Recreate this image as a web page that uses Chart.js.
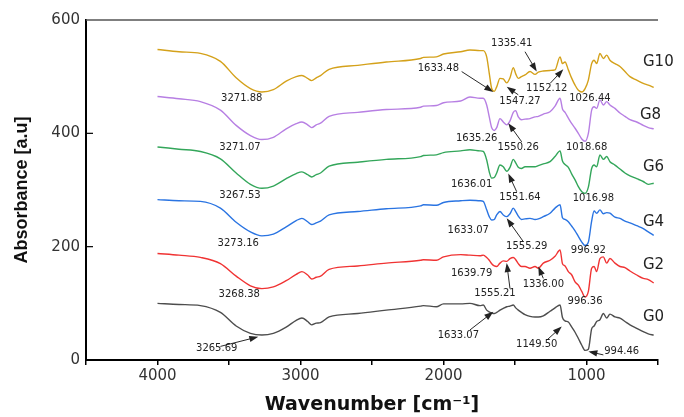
<!DOCTYPE html>
<html>
<head>
<meta charset="utf-8">
<script src="https://cdn.jsdelivr.net/npm/chart.js@4.4.1/dist/chart.umd.min.js"></script>
<style>
  html, body { margin: 0; padding: 0; background: #fff; }
  #wrap { width: 684px; height: 417px; }
</style>
</head>
<body>
<div id="wrap"><canvas id="chart"></canvas></div>
<script>
// wavenumbers (cm-1) shared by all spectra
const wavenumbers = [4000, 3850, 3700, 3560, 3450, 3350, 3270, 3190, 3100, 3030, 2990, 2950, 2922, 2890, 2860, 2800, 2600, 2400, 2160, 2140, 2050, 2000, 1880,
  1815, 1745, 1722, 1698, 1680, 1663, 1645, 1628, 1605, 1582, 1558, 1535, 1512, 1495, 1477, 1455, 1430, 1395, 1360, 1337, 1302, 1255, 1220, 1185,
  1168, 1150, 1127, 1103, 1080, 1057, 1033, 1010, 987, 964, 947, 929, 906, 882, 859, 836, 801, 766, 731, 696, 649, 603, 568, 530];

const g0 = [100, 98, 96, 84, 60, 47, 44, 47, 58, 70, 74, 68, 62, 65, 66, 76, 82, 88, 95, 96, 94, 99, 99,
  100, 96, 97, 88, 85, 83, 82, 84, 88, 91, 94, 95, 97, 92, 88, 84, 80, 77, 76, 76, 78, 86, 92, 97,
  75, 69, 67, 58, 49, 38, 26, 17, 19, 55, 60, 68, 71, 82, 74, 81, 76, 74, 68, 62, 56, 50, 46, 44];
const g2 = [188, 185, 181, 170, 148, 131, 126, 129, 140, 151, 156, 150, 143, 146, 148, 160, 166, 171, 176, 177, 176, 182, 186,
  185, 184, 185, 181, 176, 170, 166, 165, 171, 175, 174, 179, 181, 177, 170, 165, 165, 162, 165, 162, 171, 176, 183, 194,
  170, 166, 156, 150, 138, 132, 121, 111, 121, 162, 165, 156, 179, 182, 171, 179, 171, 165, 163, 157, 150, 144, 142, 136];
const g4 = [283, 281, 280, 268, 243, 226, 219, 222, 235, 246, 250, 244, 239, 242, 245, 256, 262, 267, 272, 274, 273, 278, 281,
  282, 281, 280, 265, 253, 247, 248, 256, 262, 256, 253, 258, 268, 262, 254, 248, 249, 250, 248, 249, 253, 259, 268, 274,
  251, 248, 244, 236, 228, 218, 208, 202, 208, 245, 263, 259, 265, 258, 260, 259, 252, 250, 245, 242, 237, 232, 226, 220];
const g6 = [376, 372, 368, 355, 330, 310, 303, 307, 320, 329, 332, 327, 323, 327, 330, 342, 349, 354, 359, 361, 362, 366, 369,
  371, 369, 368, 353, 332, 321, 322, 330, 344, 341, 333, 340, 354, 348, 340, 338, 341, 341, 341, 343, 346, 350, 359, 369,
  351, 345, 340, 328, 318, 306, 297, 294, 305, 338, 344, 341, 362, 354, 359, 350, 344, 337, 330, 325, 320, 315, 310, 312];
const g8 = [465, 461, 456, 441, 414, 396, 389, 393, 408, 417, 420, 415, 410, 415, 418, 430, 437, 442, 446, 448, 449, 454, 457,
  464, 462, 462, 450, 429, 410, 405, 410, 426, 420, 415, 422, 437, 440, 429, 424, 425, 426, 429, 430, 434, 438, 448, 462,
  443, 437, 427, 417, 409, 400, 390, 386, 400, 441, 447, 444, 459, 450, 456, 450, 444, 436, 430, 424, 420, 414, 410, 408];
const g10 = [548, 544, 541, 527, 498, 479, 473, 477, 492, 500, 502, 497, 493, 498, 502, 513, 520, 526, 532, 534, 535, 540, 544,
  547, 546, 546, 535, 506, 479, 474, 482, 497, 496, 489, 498, 516, 505, 497, 500, 503, 509, 504, 508, 510, 511, 512, 535,
  523, 526, 512, 497, 485, 476, 473, 479, 494, 523, 529, 523, 541, 532, 538, 529, 523, 518, 509, 500, 494, 488, 485, 481];

const seriesNames = ['G0', 'G2', 'G4', 'G6', 'G8', 'G10'];
const seriesValues = [g0, g2, g4, g6, g8, g10];
const seriesColors = ['#4d4d4d', '#f03333', '#2a74e2', '#33a65a', '#b77fe3', '#d4a11a'];
// where the sample names sit, in data units
const nameX = [605, 605, 605, 605, 626, 605];
const nameY = [76, 168, 244, 341, 432, 525];

const xTicks = [1000, 2000, 3000, 4000];
const yTicks = [0, 200, 400, 600];

// peak labels: text, wavenumber, absorbance
const peakLabels = [
  ['3271.88', 3411, 462], ['3271.07', 3423, 376], ['3267.53', 3423, 291],
  ['3273.16', 3435, 206], ['3268.38', 3428, 115], ['3265.69', 3586, 21],
  ['1633.48', 2036, 515], ['1335.41', 1523, 558], ['1547.27', 1465, 456],
  ['1152.12', 1278, 479], ['1026.44', 976, 462],
  ['1635.26', 1768, 391], ['1550.26', 1477, 376], ['1018.68', 999, 376],
  ['1636.01', 1803, 309], ['1551.64', 1465, 287], ['1016.98', 952, 285],
  ['1633.07', 1827, 229], ['1555.29', 1418, 200], ['996.92', 987, 194],
  ['1639.79', 1803, 153], ['1555.21', 1640, 118], ['1336.00', 1302, 134], ['996.36', 1010, 103],
  ['1633.07', 1896, 43], ['1149.50', 1348, 28], ['994.46', 754, 15]
];
// arrows: from (wn, abs) to tip (wn, abs)
const peakArrows = [
  [3560, 24, 3295, 41],
  [1873, 509, 1652, 473], [1430, 544, 1348, 509], [1477, 468, 1558, 482], [1255, 488, 1162, 513],
  [1453, 385, 1547, 418],
  [1488, 297, 1547, 329],
  [1442, 209, 1558, 250],
  [1535, 126, 1558, 171], [1302, 144, 1337, 165],
  [1815, 53, 1652, 85], [1278, 35, 1173, 59], [882, 9, 987, 15]
];

const frame = {
  id: 'frame',
  afterDraw(chart) {
    const { ctx, chartArea: a, scales: { y } } = chart;
    ctx.save();
    ctx.strokeStyle = '#555';
    ctx.lineWidth = 1.5;
    ctx.beginPath();
    ctx.moveTo(a.left, a.top);
    ctx.lineTo(a.right, a.top);
    ctx.stroke();
    // y ticks point into the plot
    ctx.strokeStyle = '#000';
    ctx.lineWidth = 1.2;
    [200, 400].forEach(v => {
      const py = y.getPixelForValue(v);
      ctx.beginPath();
      ctx.moveTo(a.left, py);
      ctx.lineTo(a.left + 7, py);
      ctx.stroke();
    });
    ctx.restore();
  }
};

const notes = {
  id: 'notes',
  afterDatasetsDraw(chart) {
    const { ctx, scales: { x, y } } = chart;
    ctx.save();
    ctx.fillStyle = '#222';
    ctx.font = '10px "DejaVu Sans"';
    ctx.textAlign = 'center';
    ctx.textBaseline = 'middle';
    peakLabels.forEach(([t, wx, wy]) => ctx.fillText(t, x.getPixelForValue(wx), y.getPixelForValue(wy)));

    ctx.strokeStyle = '#111';
    ctx.lineWidth = 0.9;
    peakArrows.forEach(([x0, y0, x1, y1]) => {
      const ax = x.getPixelForValue(x0), ay = y.getPixelForValue(y0);
      const bx = x.getPixelForValue(x1), by = y.getPixelForValue(y1);
      const ang = Math.atan2(by - ay, bx - ax);
      ctx.beginPath();
      ctx.moveTo(ax, ay);
      ctx.lineTo(bx - 6 * Math.cos(ang), by - 6 * Math.sin(ang));
      ctx.stroke();
      ctx.beginPath();
      ctx.moveTo(bx, by);
      ctx.lineTo(bx - 9 * Math.cos(ang) + 3.2 * Math.sin(ang), by - 9 * Math.sin(ang) - 3.2 * Math.cos(ang));
      ctx.lineTo(bx - 9 * Math.cos(ang) - 3.2 * Math.sin(ang), by - 9 * Math.sin(ang) + 3.2 * Math.cos(ang));
      ctx.closePath();
      ctx.fill();
    });

    ctx.font = '15px "DejaVu Sans"';
    ctx.textAlign = 'left';
    ctx.fillStyle = '#222';
    seriesNames.forEach((n, i) => ctx.fillText(n, x.getPixelForValue(nameX[i]), y.getPixelForValue(nameY[i])));
    ctx.restore();
  }
};

new Chart(document.getElementById('chart'), {
  type: 'line',
  data: {
    datasets: seriesNames.map((n, i) => ({
      label: n,
      data: wavenumbers.map((w, j) => ({ x: w, y: seriesValues[i][j] })),
      borderColor: seriesColors[i],
      borderWidth: 1.4,
      pointRadius: 0,
      cubicInterpolationMode: 'monotone',
      fill: false
    }))
  },
  options: {
    responsive: true,
    maintainAspectRatio: false,
    animation: false,
    layout: { padding: { top: 20, right: 26, left: 0, bottom: 0 } },
    plugins: { legend: { display: false }, tooltip: { enabled: false } },
    scales: {
      x: {
        type: 'linear',
        reverse: true,
        min: 500,
        max: 4500,
        afterFit: s => { s.height = 57; },
        ticks: {
          stepSize: 500,
          autoSkip: false,
          maxRotation: 0,
          padding: 2,
          color: '#333',
          font: { family: 'DejaVu Sans', size: 15 },
          callback: v => xTicks.includes(v) ? String(v) : ''
        },
        grid: { display: true, drawOnChartArea: false, drawTicks: true, tickLength: 5, color: '#000', lineWidth: 1.5 },
        border: { display: true, color: '#000', width: 2 },
        title: {
          display: true,
          text: 'Wavenumber [cm⁻¹]',
          color: '#111',
          font: { family: 'DejaVu Sans', size: 19, weight: 'bold' },
          padding: { top: 0, bottom: 1 }
        }
      },
      y: {
        min: 0,
        max: 600,
        afterFit: s => { s.width = 86; },
        afterBuildTicks: s => { s.ticks = yTicks.map(v => ({ value: v })); },
        ticks: {
          padding: 6,
          color: '#333',
          font: { family: 'DejaVu Sans', size: 15 }
        },
        grid: { display: false, drawTicks: false },
        border: { display: true, color: '#000', width: 2 },
        title: {
          display: true,
          text: 'Absorbance [a.u]',
          color: '#111',
          font: { family: 'Liberation Sans', size: 18, weight: 'bold' },
          padding: { top: 11, bottom: 0 }
        }
      }
    }
  },
  plugins: [frame, notes]
});
</script>
</body>
</html>
